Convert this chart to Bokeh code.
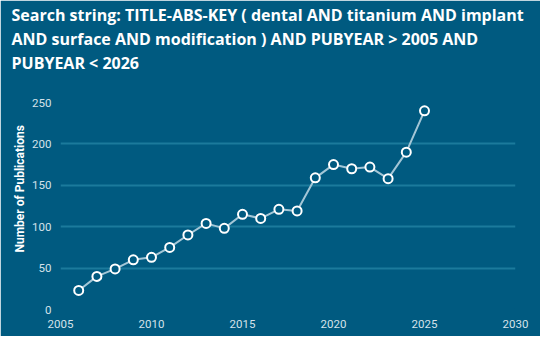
import math
from bokeh.plotting import figure
from bokeh.models import Range1d, FixedTicker, ColumnDataSource, Title
from bokeh.embed import file_html
from bokeh.resources import INLINE

years = list(range(2006, 2026))
publications = [23, 40, 49, 60, 63, 75, 90, 104, 98, 115, 110, 121, 119, 159, 175, 170, 172, 158, 190, 240]
x_ticks = [2005, 2010, 2015, 2020, 2025, 2030]
y_ticks = [0, 50, 100, 150, 200, 250]
title_lines = [
    "Search string: TITLE-ABS-KEY ( dental  AND titanium AND implant",
    "AND surface  AND modification )  AND  PUBYEAR  >  2005  AND",
    "PUBYEAR  <  2026",
]
y_label = "Number of Publications"

BG = "#005A80"
GRID = "#1B7A9C"
LINE = "#A3C6D6"
TICK = "#D5E2EA"

src = ColumnDataSource(dict(x=years, y=publications))

p = figure(width=540, height=336, output_backend="svg", toolbar_location=None,
           x_range=Range1d(2005, 2030), y_range=Range1d(0, 250),
           min_border_left=60, min_border_right=25, min_border_top=102, min_border_bottom=27)
p.background_fill_color = BG
p.border_fill_color = BG
p.outline_line_color = BG
p.outline_line_width = 2

p.xgrid.grid_line_color = None
p.ygrid.grid_line_color = GRID
p.ygrid.grid_line_width = 2

for ax in (p.xaxis, p.yaxis):
    ax.axis_line_color = None
    ax.major_tick_line_color = None
    ax.minor_tick_line_color = None
    ax.major_tick_out = 0
    ax.major_tick_in = 0
    ax.minor_tick_out = 0
    ax.major_label_text_color = TICK
    ax.major_label_text_font = "Roboto"
    ax.major_label_text_font_size = "11.5px"
p.xaxis.ticker = FixedTicker(ticks=x_ticks)
p.yaxis.ticker = FixedTicker(ticks=y_ticks)
p.xaxis.major_label_standoff = 10
p.yaxis.major_label_standoff = 9

p.line("x", "y", source=src, line_color=LINE, line_width=2)
p.scatter("x", "y", source=src, size=9, fill_color=BG, line_color="white", line_width=2)

# spacer between the title block and the plot area
p.add_layout(Title(text=" ", standoff=16, text_font_size="10px", text_color=BG), "above")
for txt in reversed(title_lines):
    p.add_layout(Title(text=txt, align="left", offset=-49, standoff=0,
                       text_color="white", text_font="Open Sans", text_font_style="bold",
                       text_font_size="16px", text_line_height=0.95), "above")

p.add_layout(Title(text=y_label, align="left", offset=57, standoff=5,
                   text_color="white", text_font="Roboto", text_font_style="bold",
                   text_font_size="12px"), "left")

open("out.html", "w").write(file_html(p, INLINE))
